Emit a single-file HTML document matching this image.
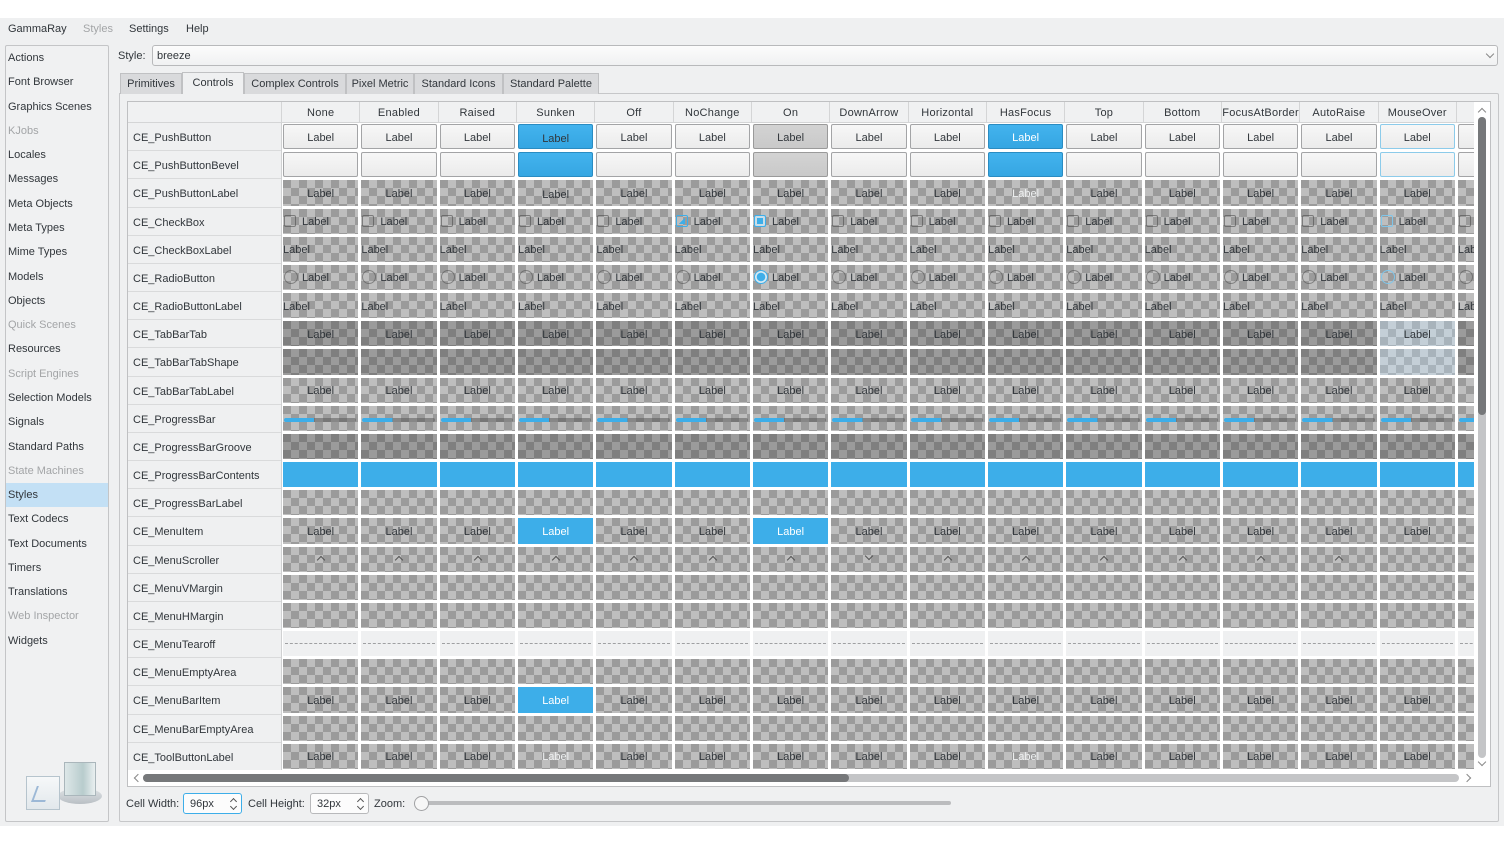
<!DOCTYPE html>
<html><head><meta charset="utf-8"><style>
*{margin:0;padding:0;box-sizing:border-box}
body{width:1504px;height:846px;background:#fff;font:11px "Liberation Sans",sans-serif;color:#31363b;position:relative;overflow:hidden}
.a{position:absolute}
#win{left:0;top:18px;width:1504px;height:808px;background:#eff0f1}
.mn{position:absolute;top:23px;line-height:12px;white-space:nowrap}
.gr{color:#a3a5a7}
#side{left:5px;top:45px;width:104px;height:777px;border:1px solid #c4c5c7;background:#f0f1f2;border-radius:2px;overflow:hidden}
#side div{height:24.29px;line-height:24.29px;padding-left:2px;white-space:nowrap}
#side .sel{background:#c3e0f5}
#combo{left:152px;top:45px;width:1346px;height:21px;border:1px solid #b8b9bb;border-radius:3px;background:linear-gradient(#fcfcfc,#f0f1f2);line-height:20px;padding-left:4px}
.tab{position:absolute;top:73px;height:21px;line-height:20px;text-align:center;background:#d9dadc;border:1px solid #c0c1c3;border-bottom:none;white-space:nowrap}
.tab.s{background:#eff0f1;top:72px;height:22px;z-index:2}
#panel{left:119px;top:93px;width:1380px;height:729px;border:1px solid #c6c7c9;background:#eff0f1;border-radius:0 2px 2px 2px}
#frame{left:127px;top:101px;width:1364px;height:686px;border:1px solid #bfc0c2;background:#fff}
#corner{left:128px;top:102px;width:154px;height:21px;background:#f0f1f2;border-right:1px solid #d4d5d6;border-bottom:1px solid #d4d5d6}
#hdr{left:282px;top:102px;width:1192px;height:21px;overflow:hidden;display:flex;background:#f0f1f2;border-bottom:1px solid #d4d5d6}
#hdr div{flex:0 0 78.33px;height:20px;line-height:20px;padding-top:1px;border-right:1px solid #d4d5d6;display:flex;justify-content:center;overflow:hidden;white-space:nowrap;letter-spacing:.25px}
#rh{left:128px;top:123px;width:154px;height:647px;overflow:hidden;background:#eff0f1;border-right:1px solid #d0d1d2}
#rh div{height:28.18px;line-height:27px;padding-top:2px;padding-left:5px;border-bottom:1px solid #d9dadb;white-space:nowrap}
#grid{left:282px;top:123px;width:1192px;height:647px;overflow:hidden;background:#fff}
.r{display:flex;height:28.18px}
.r>div{flex:0 0 75.33px;height:25.18px;margin:1px 2px 2px 1px;padding-top:2px;display:flex;align-items:center;justify-content:center;position:relative;overflow:hidden;white-space:nowrap}
.k>div{background:repeating-conic-gradient(#bebebe 0 25%,#9b9b9b 0 50%) 0 0/16px 16px}
.d>div{background:repeating-conic-gradient(#9b9b9b 0 25%,#7f7f7f 0 50%) 0 0/16px 16px}
.d>div.mb{background:repeating-conic-gradient(#c4cfd7 0 25%,#a8b3bb 0 50%) 0 0/16px 16px}
.bt>div{background:linear-gradient(#f7f7f7,#ebebeb);border:1px solid #a3a4a6;border-radius:2px}
.bt>div.sb{background:linear-gradient(#43b3ee,#35a6e2);border-color:#2a8cc2;padding-top:4px}
.bt>div.on{background:linear-gradient(#d3d3d3,#c9c9c9);border-color:#9a9a9a}
.bt>div.fb{background:linear-gradient(#43b3ee,#35a6e2);border-color:#2a8cc2;color:#fff}
.bt>div.mo{border-color:#8ccbea}
.r>div.dn{padding-top:4px}
.wt{color:#eef0f1}
.lf>div{justify-content:flex-start}
.cb>div,.rb>div{justify-content:flex-start}
.cb s{display:block;width:12px;height:12px;border:1px solid rgba(70,70,70,.55);border-radius:2px;margin:-2px 6px 0 1px;position:relative}
.cb s.nc{border-color:#3daee9;background:linear-gradient(135deg,transparent 50%,#3daee9 50%) 2px 2px/6px 6px no-repeat}
.cb s.ck{border-color:#3daee9;background:#3daee9;box-shadow:inset 0 0 0 2px #c9dde8}
.cb s.mo,.rb s.mo{border-color:#7fc6ea}
.rb s{display:block;width:14px;height:14px;border:1px solid rgba(70,70,70,.5);border-radius:50%;margin:-2px 4px 0 1px}
.rb s.ck{border-color:#3daee9;background:radial-gradient(circle,#3daee9 0 4px,#d7e9f2 4.5px)}
.pb i{position:absolute;left:1px;right:2px;top:12px;height:4px;border-radius:2px;background:linear-gradient(90deg,#3daee9 0 42%,rgba(90,90,90,.55) 42%)}
.bl>div{background:#3daee9}
.k>div.bw{background:#3daee9;color:#fff}
.ms i{position:absolute;left:35px;top:10px;width:6px;height:6px;border-left:1.3px solid #555;border-top:1.3px solid #555;transform:rotate(45deg)}
.ms i.dw{top:6px;transform:rotate(225deg)}
.tf>div{background:#eff0f1}
.tf>div::after{content:"";position:absolute;left:2px;right:2px;top:12px;border-top:1px dashed #9fa0a2}
#vs{left:1474px;top:102px;width:16px;height:669px;background:#fff}
#hs{left:128px;top:770px;width:1346px;height:16px;background:#fff}
.chev{position:absolute;width:6px;height:6px;border-left:1.2px solid #888;border-top:1.2px solid #888}
.spin{position:absolute;top:793px;height:21px;width:59px;border:1px solid #b8b9bb;border-radius:3px;background:#fcfcfc;line-height:20px;padding-left:6px}
</style></head><body>
<div class="a" id="win"></div>
<span class="mn" style="left:8px">GammaRay</span>
<span class="mn gr" style="left:83px">Styles</span>
<span class="mn" style="left:129px">Settings</span>
<span class="mn" style="left:186px">Help</span>

<div class="a" id="side">
<div>Actions</div><div>Font Browser</div><div>Graphics Scenes</div><div class="gr">KJobs</div><div>Locales</div><div>Messages</div><div>Meta Objects</div><div>Meta Types</div><div>Mime Types</div><div>Models</div><div>Objects</div><div class="gr">Quick Scenes</div><div>Resources</div><div class="gr">Script Engines</div><div>Selection Models</div><div>Signals</div><div>Standard Paths</div><div class="gr">State Machines</div><div class="sel">Styles</div><div>Text Codecs</div><div>Text Documents</div><div>Timers</div><div>Translations</div><div class="gr">Web Inspector</div><div>Widgets</div>
</div>
<!-- sidebar icon -->
<div class="a" style="left:58px;top:788px;width:44px;height:16px;border-radius:50%;background:linear-gradient(#dfe3e6,#b9bfc4)"></div>
<div class="a" style="left:64px;top:762px;width:32px;height:34px;background:linear-gradient(90deg,#dde7e8,#b8cccd 60%,#e9eff0);border:1px solid #aab6bb"></div>
<div class="a" style="left:26px;top:776px;width:34px;height:34px;background:linear-gradient(#f6f8f9,#e2e8ec);border:1px solid #b6c4cd"></div>
<div class="a" style="left:34px;top:786px;width:14px;height:16px;border-left:2px solid #9cb8d6;border-bottom:2px solid #9cb8d6;transform:skewX(-20deg)"></div>

<span class="mn" style="left:118px;top:50px">Style:</span>
<div class="a" id="combo">breeze<span class="chev" style="left:1334px;top:5px;transform:rotate(225deg)"></span></div>

<div class="a" id="panel"></div>
<div class="tab" style="left:120px;width:62px">Primitives</div>
<div class="tab s" style="left:182px;width:62px">Controls</div>
<div class="tab" style="left:244px;width:102px">Complex Controls</div>
<div class="tab" style="left:346px;width:68px">Pixel Metric</div>
<div class="tab" style="left:414px;width:89px">Standard Icons</div>
<div class="tab" style="left:503px;width:96px">Standard Palette</div>

<div class="a" id="frame"></div>
<div class="a" id="corner"></div>
<div class="a" id="hdr">
<div><span>None</span></div><div><span>Enabled</span></div><div><span>Raised</span></div><div><span>Sunken</span></div><div><span>Off</span></div><div><span>NoChange</span></div><div><span>On</span></div><div><span>DownArrow</span></div><div><span>Horizontal</span></div><div><span>HasFocus</span></div><div><span>Top</span></div><div><span>Bottom</span></div><div><span>FocusAtBorder</span></div><div><span>AutoRaise</span></div><div><span>MouseOver</span></div><div><span></span></div>
</div>
<div class="a" id="rh">
<div>CE_PushButton</div><div>CE_PushButtonBevel</div><div>CE_PushButtonLabel</div><div>CE_CheckBox</div><div>CE_CheckBoxLabel</div><div>CE_RadioButton</div><div>CE_RadioButtonLabel</div><div>CE_TabBarTab</div><div>CE_TabBarTabShape</div><div>CE_TabBarTabLabel</div><div>CE_ProgressBar</div><div>CE_ProgressBarGroove</div><div>CE_ProgressBarContents</div><div>CE_ProgressBarLabel</div><div>CE_MenuItem</div><div>CE_MenuScroller</div><div>CE_MenuVMargin</div><div>CE_MenuHMargin</div><div>CE_MenuTearoff</div><div>CE_MenuEmptyArea</div><div>CE_MenuBarItem</div><div>CE_MenuBarEmptyArea</div><div>CE_ToolButtonLabel</div>
</div>

<div class="a" id="grid">
<div class="r bt"><div>Label</div><div>Label</div><div>Label</div><div class="sb">Label</div><div>Label</div><div>Label</div><div class="on">Label</div><div>Label</div><div>Label</div><div class="fb">Label</div><div>Label</div><div>Label</div><div>Label</div><div>Label</div><div class="mo">Label</div><div>Label</div></div>
<div class="r bt"><div></div><div></div><div></div><div class="sb"></div><div></div><div></div><div class="on"></div><div></div><div></div><div class="fb"></div><div></div><div></div><div></div><div></div><div class="mo"></div><div></div></div>
<div class="r k"><div>Label</div><div>Label</div><div>Label</div><div class="dn">Label</div><div>Label</div><div>Label</div><div>Label</div><div>Label</div><div>Label</div><div class="wt">Label</div><div>Label</div><div>Label</div><div>Label</div><div>Label</div><div>Label</div><div>Label</div></div>
<div class="r k cb"><div><s></s>Label</div><div><s></s>Label</div><div><s></s>Label</div><div><s></s>Label</div><div><s></s>Label</div><div><s class="nc"></s>Label</div><div><s class="ck"></s>Label</div><div><s></s>Label</div><div><s></s>Label</div><div><s></s>Label</div><div><s></s>Label</div><div><s></s>Label</div><div><s></s>Label</div><div><s></s>Label</div><div><s class="mo"></s>Label</div><div><s></s>Label</div></div>
<div class="r k lf"><div>Label</div><div>Label</div><div>Label</div><div>Label</div><div>Label</div><div>Label</div><div>Label</div><div>Label</div><div>Label</div><div>Label</div><div>Label</div><div>Label</div><div>Label</div><div>Label</div><div>Label</div><div>Label</div></div>
<div class="r k rb"><div><s></s>Label</div><div><s></s>Label</div><div><s></s>Label</div><div><s></s>Label</div><div><s></s>Label</div><div><s></s>Label</div><div><s class="ck"></s>Label</div><div><s></s>Label</div><div><s></s>Label</div><div><s></s>Label</div><div><s></s>Label</div><div><s></s>Label</div><div><s></s>Label</div><div><s></s>Label</div><div><s class="mo"></s>Label</div><div><s></s>Label</div></div>
<div class="r k lf"><div>Label</div><div>Label</div><div>Label</div><div>Label</div><div>Label</div><div>Label</div><div>Label</div><div>Label</div><div>Label</div><div>Label</div><div>Label</div><div>Label</div><div>Label</div><div>Label</div><div>Label</div><div>Label</div></div>
<div class="r d"><div>Label</div><div>Label</div><div>Label</div><div>Label</div><div>Label</div><div>Label</div><div>Label</div><div>Label</div><div>Label</div><div>Label</div><div>Label</div><div>Label</div><div>Label</div><div>Label</div><div class="mb">Label</div><div>Label</div></div>
<div class="r d"><div></div><div></div><div></div><div></div><div></div><div></div><div></div><div></div><div></div><div></div><div></div><div></div><div></div><div></div><div class="mb"></div><div></div></div>
<div class="r k"><div>Label</div><div>Label</div><div>Label</div><div>Label</div><div>Label</div><div>Label</div><div>Label</div><div>Label</div><div>Label</div><div>Label</div><div>Label</div><div>Label</div><div>Label</div><div>Label</div><div>Label</div><div>Label</div></div>
<div class="r k pb"><div><i></i></div><div><i></i></div><div><i></i></div><div><i></i></div><div><i></i></div><div><i></i></div><div><i></i></div><div><i></i></div><div><i></i></div><div><i></i></div><div><i></i></div><div><i></i></div><div><i></i></div><div><i></i></div><div><i></i></div><div><i></i></div></div>
<div class="r d"><div></div><div></div><div></div><div></div><div></div><div></div><div></div><div></div><div></div><div></div><div></div><div></div><div></div><div></div><div></div><div></div></div>
<div class="r bl"><div></div><div></div><div></div><div></div><div></div><div></div><div></div><div></div><div></div><div></div><div></div><div></div><div></div><div></div><div></div><div></div></div>
<div class="r k"><div></div><div></div><div></div><div></div><div></div><div></div><div></div><div></div><div></div><div></div><div></div><div></div><div></div><div></div><div></div><div></div></div>
<div class="r k"><div>Label</div><div>Label</div><div>Label</div><div class="bw">Label</div><div>Label</div><div>Label</div><div class="bw">Label</div><div>Label</div><div>Label</div><div>Label</div><div>Label</div><div>Label</div><div>Label</div><div>Label</div><div>Label</div><div>Label</div></div>
<div class="r k ms"><div><i></i></div><div><i></i></div><div><i></i></div><div><i></i></div><div><i></i></div><div><i></i></div><div><i></i></div><div><i class="dw"></i></div><div><i></i></div><div><i></i></div><div><i></i></div><div><i></i></div><div><i></i></div><div><i></i></div><div></div><div><i></i></div></div>
<div class="r k"><div></div><div></div><div></div><div></div><div></div><div></div><div></div><div></div><div></div><div></div><div></div><div></div><div></div><div></div><div></div><div></div></div>
<div class="r k"><div></div><div></div><div></div><div></div><div></div><div></div><div></div><div></div><div></div><div></div><div></div><div></div><div></div><div></div><div></div><div></div></div>
<div class="r tf"><div></div><div></div><div></div><div></div><div></div><div></div><div></div><div></div><div></div><div></div><div></div><div></div><div></div><div></div><div></div><div></div></div>
<div class="r k"><div></div><div></div><div></div><div></div><div></div><div></div><div></div><div></div><div></div><div></div><div></div><div></div><div></div><div></div><div></div><div></div></div>
<div class="r k"><div>Label</div><div>Label</div><div>Label</div><div class="bw">Label</div><div>Label</div><div>Label</div><div>Label</div><div>Label</div><div>Label</div><div>Label</div><div>Label</div><div>Label</div><div>Label</div><div>Label</div><div>Label</div><div>Label</div></div>
<div class="r k"><div></div><div></div><div></div><div></div><div></div><div></div><div></div><div></div><div></div><div></div><div></div><div></div><div></div><div></div><div></div><div></div></div>
<div class="r k"><div>Label</div><div>Label</div><div>Label</div><div class="wt">Label</div><div>Label</div><div>Label</div><div>Label</div><div>Label</div><div>Label</div><div class="wt">Label</div><div>Label</div><div>Label</div><div>Label</div><div>Label</div><div>Label</div><div>Label</div></div>
</div>

<!-- vertical scrollbar -->
<div class="a" id="vs">
<span class="chev" style="left:5px;top:7px;transform:rotate(45deg)"></span>
<div class="a" style="left:4px;top:15px;width:8px;height:641px;border-radius:4px;background:#c4c5c7"></div>
<div class="a" style="left:4px;top:15px;width:8px;height:298px;border-radius:4px;background:#76787a"></div>
<span class="chev" style="left:5px;top:657px;transform:rotate(225deg)"></span>
</div>
<!-- horizontal scrollbar -->
<div class="a" id="hs">
<span class="chev" style="left:7px;top:5px;transform:rotate(-45deg)"></span>
<div class="a" style="left:15px;top:4px;width:1316px;height:8px;border-radius:4px;background:#c4c5c7"></div>
<div class="a" style="left:15px;top:4px;width:706px;height:8px;border-radius:4px;background:#76787a"></div>
<span class="chev" style="left:1336px;top:5px;transform:rotate(135deg)"></span>
</div>

<!-- bottom controls -->
<span class="mn" style="left:126px;top:798px">Cell Width:</span>
<div class="spin" style="left:183px;border-color:#3daee9">96px<span class="chev" style="left:47px;top:5px;width:5px;height:5px;transform:rotate(45deg);border-color:#555"></span><span class="chev" style="left:47px;top:10px;width:5px;height:5px;transform:rotate(225deg);border-color:#555"></span></div>
<span class="mn" style="left:248px;top:798px">Cell Height:</span>
<div class="spin" style="left:310px">32px<span class="chev" style="left:47px;top:5px;width:5px;height:5px;transform:rotate(45deg);border-color:#555"></span><span class="chev" style="left:47px;top:10px;width:5px;height:5px;transform:rotate(225deg);border-color:#555"></span></div>
<span class="mn" style="left:374px;top:798px">Zoom:</span>
<div class="a" style="left:424px;top:801px;width:527px;height:4px;border-radius:2px;background:#bbbcbe"></div>
<div class="a" style="left:414px;top:796px;width:15px;height:15px;border-radius:50%;border:1px solid #a0a1a3;background:#f7f7f7"></div>
</body></html>
